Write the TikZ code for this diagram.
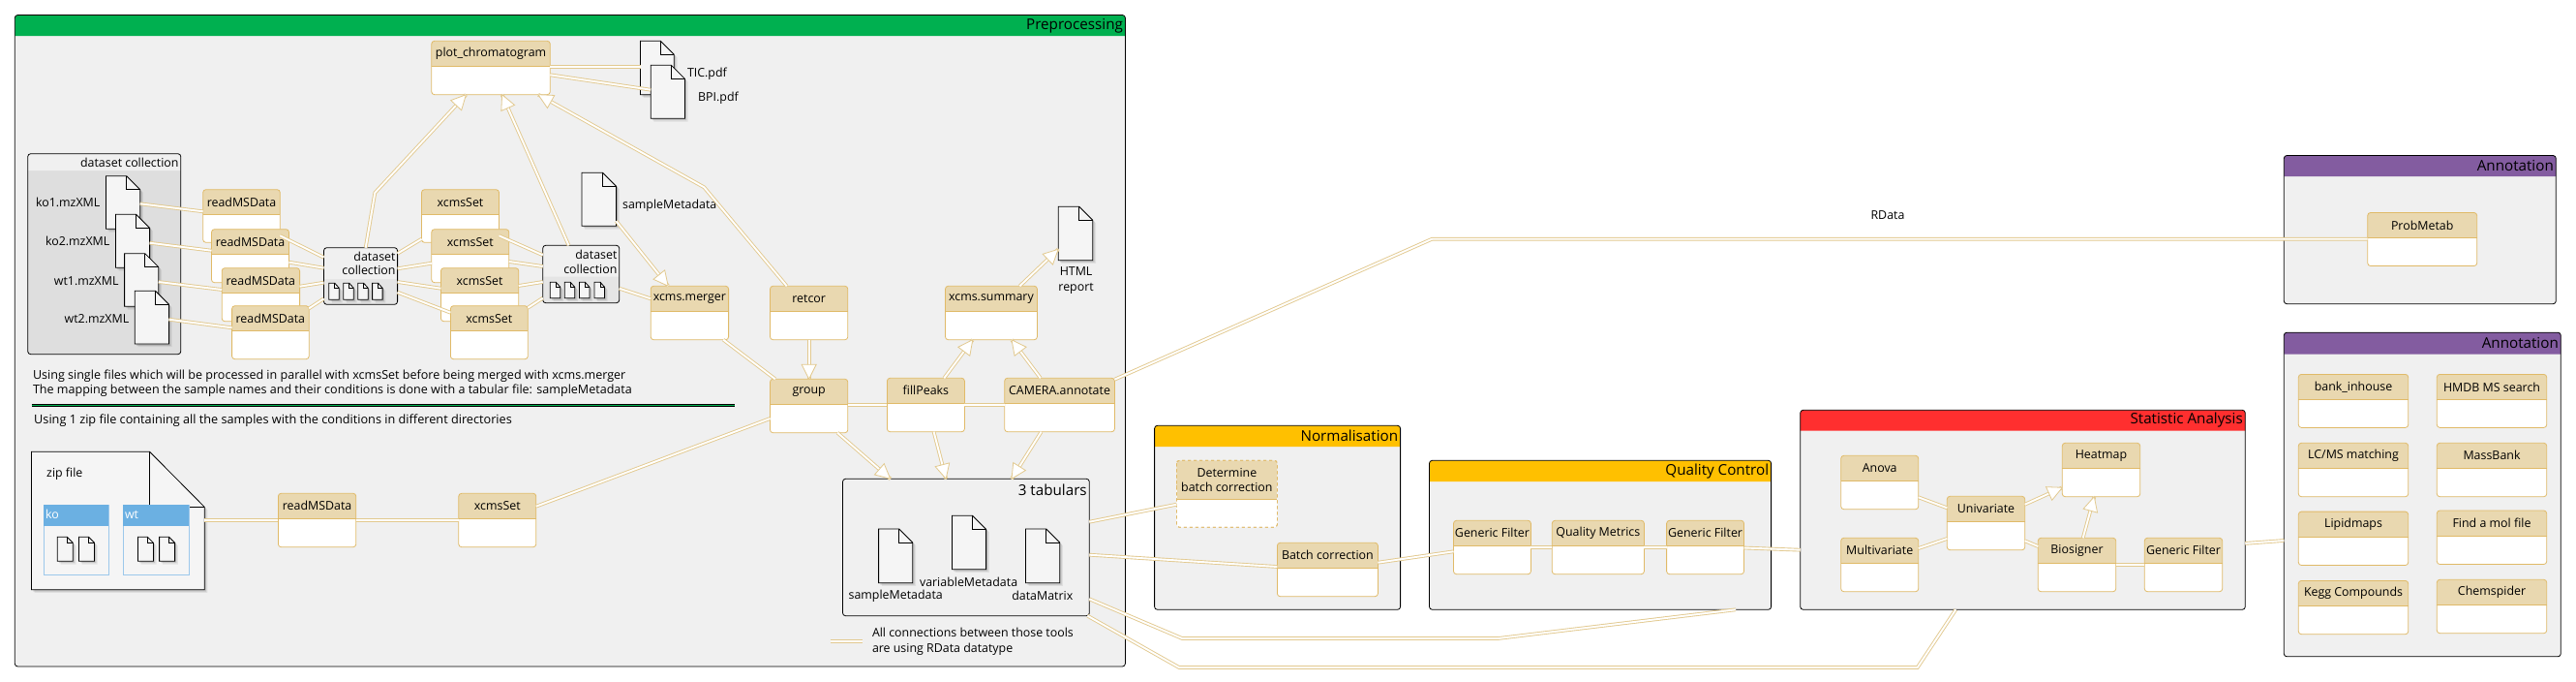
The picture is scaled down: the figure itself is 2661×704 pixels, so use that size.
\documentclass[tikz,border=0pt]{standalone}
\usepackage{fontspec}
\setmainfont{Open Sans}
\usetikzlibrary{decorations.markings}
\definecolor{headtan}{HTML}{E9D8B0}
\definecolor{bordertan}{HTML}{E0BA68}
\definecolor{conntan}{HTML}{E2C98F}
\definecolor{panelbg}{HTML}{F0F0F0}
\definecolor{prepgreen}{HTML}{00B050}
\definecolor{normyellow}{HTML}{FFC000}
\definecolor{statred}{HTML}{FF2F2F}
\definecolor{annpurple}{HTML}{835CA0}
\definecolor{zipblue}{HTML}{6BB0E2}
\definecolor{zipedge}{HTML}{9CC8EB}
\newcommand\fsN{\fontsize{12.4}{15}\selectfont}
\newcommand\fsA{\fontsize{12.55}{15}\selectfont}
\newcommand\fsB{\fontsize{12.7}{15}\selectfont}
\newcommand\fsT{\fontsize{15.2}{18}\selectfont}
\newcommand\headtip{\filldraw[fill=white,draw=conntan,line width=.8pt,line join=miter] (0,0) -- (-15,-7.5) -- (-15,7.5) -- cycle;}
\newcommand\headtipback{\filldraw[fill=white,draw=conntan,line width=.8pt,line join=miter] (0,0) -- (15,-7.5) -- (15,7.5) -- cycle;}
\tikzset{
  x=1pt,y=-1pt,
  every node/.style={inner sep=0pt,outer sep=0pt},
  lbl/.style={font=\fsN,text=black,align=center},
  lblL/.style={lbl,anchor=west,align=left},
  lblR/.style={lbl,anchor=east,align=right},
  ttl/.style={font=\fsT,text=black,anchor=east},
  boxnode/.style={rectangle,rounded corners=3pt},
  blackline/.style={draw=black,line width=.8pt},
  toolline/.style={draw=bordertan,line width=.8pt},
  conn/.style={draw=conntan,line width=3.7pt,line join=miter,postaction={draw=white,line width=1.9pt}},
  arr/.style={conn,postaction={decorate,decoration={markings,mark=at position 1 with {\headtip}}}},
  arrboth/.style={conn,postaction={decorate,decoration={markings,mark=at position 1 with {\headtip},mark=at position 0 with {\headtipback}}}},
}
% tool box with tan header
\newcommand\tool[7][]{%
  \pgfmathsetmacro\cx{(#3+#5)/2}\pgfmathsetmacro\cy{(#4+#6)/2}%
  \pgfmathsetmacro\bw{#5-#3}\pgfmathsetmacro\bh{#6-#4}%
  \pgfmathsetmacro\hy{#4+26}\pgfmathsetmacro\ly{#4+13}%
  \node[boxnode,fill=white,minimum width=\bw pt,minimum height=\bh pt] (#2) at (\cx,\cy) {};%
  \fill[headtan,rounded corners=3pt] (#3,\hy) -- (#3,#4) -- (#5,#4) -- (#5,\hy);%
  \draw[toolline,rounded corners=3pt,#1] (#3,#4) rectangle (#5,#6);%
  \draw[toolline] (#3,\hy) -- (#5,\hy);%
  \node[lbl] (#2-l) at (\cx,\ly) {#7};%
}
% file icon
\newcommand\docf[7]{%
  \pgfmathsetmacro\cx{(#2+#4)/2}\pgfmathsetmacro\cy{(#3+#5)/2}%
  \pgfmathsetmacro\bw{#4-#2}\pgfmathsetmacro\bh{#5-#3}%
  \pgfmathsetmacro\fx{#4-#6}\pgfmathsetmacro\fy{#3+#7}%
  \fill[black,opacity=.07,shift={(3.2,3.2)}] (#2,#3) -- (\fx,#3) -- (#4,\fy) -- (#4,#5) -- (#2,#5) -- cycle;%
  \fill[black,opacity=.13,shift={(1.8,1.8)}] (#2,#3) -- (\fx,#3) -- (#4,\fy) -- (#4,#5) -- (#2,#5) -- cycle;%
  \node[minimum width=\bw pt,minimum height=\bh pt] (#1) at (\cx,\cy) {};%
  \filldraw[fill=white!96!black,blackline,line join=miter] (#2,#3) -- (\fx,#3) -- (#4,\fy) -- (#4,#5) -- (#2,#5) -- cycle;%
  \draw[blackline] (\fx,#3) -- (\fx,\fy) -- (#4,\fy);%
}
% panel with coloured title band
\newcommand\panel[8]{%
  \pgfmathsetmacro\cx{(#2+#4)/2}\pgfmathsetmacro\cy{(#3+#5)/2}%
  \pgfmathsetmacro\bw{#4-#2}\pgfmathsetmacro\bh{#5-#3}%
  \pgfmathsetmacro\ty{(#3+#6)/2}\pgfmathsetmacro\tx{#4-2.5}%
  \node[boxnode,fill=panelbg,minimum width=\bw pt,minimum height=\bh pt] (#1) at (\cx,\cy) {};%
  \fill[#7,rounded corners=3pt] (#2,#6) -- (#2,#3) -- (#4,#3) -- (#4,#6);%
  \draw[blackline,rounded corners=3pt] (#2,#3) rectangle (#4,#5);%
  \node[ttl] (#1-t) at (\tx,\ty) {#8};%
}
% collection box
\newcommand\coll[8]{%
  \pgfmathsetmacro\cx{(#2+#4)/2}\pgfmathsetmacro\cy{(#3+#5)/2}%
  \pgfmathsetmacro\bw{#4-#2}\pgfmathsetmacro\bh{#5-#3}%
  \node[boxnode,fill=#8,minimum width=\bw pt,minimum height=\bh pt] (#1) at (\cx,\cy) {};%
  \fill[#7,rounded corners=3pt] (#2,#6) -- (#2,#3) -- (#4,#3) -- (#4,#6);%
  \draw[blackline,rounded corners=3pt] (#2,#3) rectangle (#4,#5);%
}
\begin{document}
\begin{tikzpicture}
\useasboundingbox (0,0) rectangle (2661,704);
\fill[white] (0,0) rectangle (2661,704);

% ---------- panels
\panel{prep}{15.3}{15.5}{1162.4}{688}{37}{prepgreen}{Preprocessing}
\panel{norm}{1192.6}{439.3}{1446.6}{629.3}{461}{normyellow}{Normalisation}
\panel{qc}{1476.5}{475.3}{1829.6}{629.3}{497}{normyellow}{Quality Control}
\panel{stat}{1859.7}{423.3}{2319.3}{629.3}{444.7}{statred}{Statistic Analysis}
\panel{ann1}{2359.3}{160.5}{2640.3}{313.7}{182}{annpurple}{Annotation}
\panel{ann2}{2359.3}{343.2}{2645.3}{677.8}{365.5}{annpurple}{Annotation}

% ---------- dataset collection (big)
\coll{bigdc}{28.7}{158.7}{186.8}{365.7}{176}{panelbg}{white!87!black}
\node[lblR] (bigdc-l) at (184.5,167.5) {dataset collection};
\docf{ko1}{109.5}{181.7}{144.7}{236.3}{14}{14}
\docf{ko2}{119.4}{221.3}{154.6}{276.3}{14}{14}
\docf{wt1}{128.6}{261.7}{163.8}{316.3}{14}{14}
\docf{wt2}{139.3}{300.3}{174.5}{355}{14}{14}
\node[lblR] (ko1-l) at (103.3,208.7) {ko1.mzXML};
\node[lblR] (ko2-l) at (113.3,248.7) {ko2.mzXML};
\node[lblR] (wt1-l) at (122.5,289.7) {wt1.mzXML};
\node[lblR] (wt2-l) at (133.2,328.7) {wt2.mzXML};

% ---------- tools row
\tool{rm1}{209.7}{195.7}{289.3}{250.3}{readMSData}
\tool{rm2}{218.5}{236.7}{298.5}{291.7}{readMSData}
\tool{rm3}{229.2}{276.7}{309.6}{331.7}{readMSData}
\tool{rm4}{239.6}{315.7}{319.2}{370.7}{readMSData}
\tool{xs1}{435.5}{195.7}{515.5}{250.3}{xcmsSet}
\tool{xs2}{445.8}{236.7}{525.8}{291.7}{xcmsSet}
\tool{xs3}{455.4}{276.7}{535.8}{331.7}{xcmsSet}
\tool{xs4}{465.4}{315.7}{545.3}{370.7}{xcmsSet}

% small collections
\coll{dca}{334.5}{255.7}{410.6}{314.3}{288}{panelbg}{white!90!black}
\node[lblR] (dca-l) at (408.5,264.7) {dataset};
\node[lblR] (dca-m) at (408.5,278.7) {collection};
\docf{dca1}{339.8}{292.3}{350.3}{309.3}{4.5}{5}
\docf{dca2}{354.8}{292.3}{365.3}{309.3}{4.5}{5}
\docf{dca3}{369.7}{292.3}{380.2}{309.3}{4.5}{5}
\docf{dca4}{384.6}{292.3}{395.1}{309.3}{4.5}{5}
\coll{dcb}{560.7}{253.3}{639.7}{312.7}{285.7}{panelbg}{white!90!black}
\node[lblR] (dcb-l) at (637.4,262.7) {dataset};
\node[lblR] (dcb-m) at (637.4,277.7) {collection};
\docf{dcb1}{568.3}{291.3}{578.8}{307.8}{4.5}{5}
\docf{dcb2}{583.2}{291.3}{593.7}{307.8}{4.5}{5}
\docf{dcb3}{598.4}{291.3}{608.9}{307.8}{4.5}{5}
\docf{dcb4}{614}{291.3}{624.5}{307.8}{4.5}{5}

\tool{plot}{445.8}{42.3}{568.3}{97.7}{plot\_chromatogram}
\docf{tic}{661.5}{42.3}{696.3}{97.7}{14}{14}
\docf{bpi}{672.2}{67.3}{707.4}{122.3}{14}{14}
\node[lblL] (tic-l) at (710,76.7) {TIC.pdf};
\node[lblL] (bpi-l) at (721.2,101.7) {BPI.pdf};
\docf{smd}{601}{178.3}{636.6}{233.3}{14}{14}
\node[lblL] (smd-l) at (643.1,212.7) {sampleMetadata};
\tool{merger}{672.2}{295.3}{752.6}{350.7}{xcms.merger}
\tool{retcor}{795.5}{295.3}{875.8}{350.7}{retcor}
\tool{summary}{976.5}{295.3}{1071.4}{350.7}{xcms.summary}
\docf{html}{1093.2}{213.3}{1128.8}{268.7}{14}{14}
\node[lbl] (html-l) at (1111.6,289.3) {HTML\\[0.6pt]report};
\tool{group}{795.5}{391.3}{875.8}{446.7}{group}
\tool{fill}{916.4}{390.3}{996.4}{445.7}{fillPeaks}
\tool{camera}{1037.7}{390.3}{1151.4}{445.7}{CAMERA.annotate}

% ---------- notes
\node[lblL,font=\fsA] (note1) at (34,388.3) {Using single files which will be processed in parallel with xcmsSet before being merged with xcms.merger};
\node[lblL,font=\fsA] (note2) at (34,403.7) {The mapping between the sample names and their conditions is done with a tabular file: sampleMetadata};
\draw[black,line width=2.6pt] (32.5,418.3) -- (758.7,418.3);
\draw[prepgreen,line width=1.2pt] (32.5,418.3) -- (758.7,418.3);
\node[lblL,font=\fsB] (note3) at (35.2,433.7) {Using 1 zip file containing all the samples with the conditions in different directories};

% ---------- zip file
\docf{zip}{32.5}{466.3}{211.2}{608.7}{56.6}{57}
\node[lblL] (zip-l) at (48.2,489.7) {zip file};
\node[fill=white!96!black,draw=zipedge,line width=.8pt,minimum width=66.9pt,minimum height=72.7pt] (kob) at (78.65,557.35) {};
\fill[zipblue] (45.2,521) rectangle (112.1,542.7);
\node[lblL,text=white] (kob-l) at (47,531) {ko};
\node[fill=white!96!black,draw=zipedge,line width=.8pt,minimum width=67.8pt,minimum height=72.7pt] (wtb) at (161.3,557.35) {};
\fill[zipblue] (127.4,521) rectangle (195.2,542.7);
\node[lblL,text=white] (wtb-l) at (129,531) {wt};
\docf{ko-a}{59.3}{554.3}{75.3}{579.3}{6}{6}
\docf{ko-b}{81.5}{554.3}{97.5}{579.3}{6}{6}
\docf{wt-a}{142.4}{554.3}{158.4}{579.3}{6}{6}
\docf{wt-b}{164.6}{554.3}{180.6}{579.3}{6}{6}
\tool{rmz}{287.4}{509.3}{367.8}{564.7}{readMSData}
\tool{xsz}{473.8}{509.3}{553.8}{564.7}{xcmsSet}

% ---------- 3 tabulars
\node[boxnode,draw=black,line width=.8pt,fill=panelbg,minimum width=254.8pt,minimum height=141.4pt] (tab) at (997.9,565) {};
\node[ttl] (tab-l) at (1122.7,505.7) {3 tabulars};
\docf{tsm}{907.6}{546}{942.8}{601.7}{14}{14}
\docf{tvm}{983.4}{532.3}{1018.6}{587.7}{14}{14}
\docf{tdm}{1059.5}{546}{1094.7}{601.7}{14}{14}
\node[lbl] (tsm-l) at (925.2,615) {sampleMetadata};
\node[lbl] (tvm-l) at (1000.6,600.7) {variableMetadata};
\node[lbl] (tdm-l) at (1076.8,615) {dataMatrix};
\coordinate (lega) at (857.5,662);
\coordinate (legb) at (890.8,662);
\draw[conn] (lega) -- (legb);
\node[lblL] (leg-l) at (901,662.2) {All connections between those tools\\[0.6pt]are using RData datatype};

% ---------- downstream tools
\tool[dashed]{det}{1215.4}{475.3}{1319.4}{544.3}{}
\fill[headtan] (1215.8,490) rectangle (1319,515.3);
\draw[toolline,dashed,rounded corners=3pt] (1215.4,475.3) rectangle (1319.4,544.3);
\draw[toolline] (1215.4,515.7) -- (1319.4,515.7);
\node[lbl] (det-l2) at (1267.4,495.7) {Determine\\[0.4pt]batch correction};
\tool{batch}{1319.4}{560.3}{1423.4}{615.7}{Batch correction}
\tool{gf1}{1501.5}{537.3}{1581.4}{592.7}{Generic Filter}
\tool{qm}{1603.3}{537.3}{1698.4}{592.7}{Quality Metrics}
\tool{gf2}{1721.6}{537.3}{1801.5}{592.7}{Generic Filter}
\tool{anova}{1901.7}{470.3}{1981.7}{525.7}{Anova}
\tool{multi}{1901.7}{555.3}{1981.7}{610.7}{Multivariate}
\tool{uni}{2011.3}{512.3}{2091.7}{567.7}{Univariate}
\tool{heat}{2130.3}{457.3}{2210.7}{512.7}{Heatmap}
\tool{bio}{2105.3}{555.3}{2185.7}{610.7}{Biosigner}
\tool{gf3}{2215.3}{555.3}{2295.7}{610.7}{Generic Filter}
\tool{prob}{2445.7}{219.5}{2558.7}{274.5}{ProbMetab}
\tool{bank}{2374.3}{386.4}{2487.7}{441.4}{bank\_inhouse}
\tool{lcms}{2374.3}{457.3}{2487.7}{512.7}{LC/MS matching}
\tool{lipid}{2374.3}{528.1}{2487.7}{583.5}{Lipidmaps}
\tool{kegg}{2374.3}{599.4}{2487.7}{654.7}{Kegg Compounds}
\tool{hmdb}{2517.3}{386.4}{2630.7}{441.4}{HMDB MS search}
\tool{mass}{2517.3}{457.3}{2630.7}{512.7}{MassBank}
\tool{mol}{2517.3}{527}{2630.7}{582.5}{Find a mol file}
\tool{chem}{2517.3}{598.3}{2630.7}{653.7}{Chemspider}
\node[lbl] (rdata) at (1950,222) {RData};

% ---------- connectors
\draw[conn] (ko1.east |- 0,210.3) -- (rm1.west |- 0,218.3);
\draw[conn] (ko2.east |- 0,250.7) -- (rm2.west |- 0,258.7);
\draw[conn] (wt1.east |- 0,291) -- (rm3.west |- 0,299);
\draw[conn] (wt2.east |- 0,329.7) -- (rm4.west |- 0,338.3);
\draw[conn] (rm1.east |- 0,243.3) -- (dca.west |- 0,265.7);
\draw[conn] (rm2.east |- 0,270.7) -- (dca.west |- 0,276.7);
\draw[conn] (rm3.east |- 0,295.7) -- (dca.west |- 0,291.7);
\draw[conn] (rm4.east |- 0,318.3) -- (dca.west |- 0,308.3);
\draw[conn] (dca.east |- 0,261.7) -- (xs1.west |- 0,246.7);
\draw[conn] (dca.east |- 0,277.3) -- (xs2.west |- 0,271.7);
\draw[conn] (dca.east |- 0,291) -- (xs3.west |- 0,297.7);
\draw[conn] (dca.east |- 0,301.7) -- (xs4.west |- 0,322.7);
\draw[conn] (xs1.east |- 0,243.3) -- (dcb.west |- 0,263.3);
\draw[conn] (xs2.east |- 0,270) -- (dcb.west |- 0,275);
\draw[conn] (xs3.east |- 0,295) -- (dcb.west |- 0,291);
\draw[conn] (xs4.east |- 0,317.7) -- (dcb.west |- 0,307.7);
\draw[conn] (dcb.east |- 0,297.7) -- (merger.west |- 0,308.3);
\draw[arr] (smd.east |- 0,228.3) -- (690.2,0 |- merger.north);
\draw[arr] (377.7,0 |- dca.north) -- (387.3,199) -- (481.4,0 |- plot.south);
\draw[arr] (587.5,0 |- dcb.north) -- (518.6,0 |- plot.south);
\draw[arr] (812.7,0 |- retcor.north) -- (727.3,193.3) -- (556,0 |- plot.south);
\draw[conn] (plot.east |- 0,69.3) -- (tic.west |- 0,69.3);
\draw[conn] (plot.east |- 0,77.3) -- (bpi.west |- 0,92.7);
\draw[conn] (747.2,0 |- merger.south) -- (800.8,0 |- group.north);
\draw[arrboth] (retcor.south) -- (group.north);
\draw[arr] (975.3,0 |- fill.north) -- (1004.8,0 |- summary.south);
\draw[arr] (1074.8,0 |- camera.north) -- (1045,0 |- summary.south);
\draw[arr] (1053.4,0 |- summary.north) -- (html.west |- 0,257.3);
\draw[conn] (group.east |- 0,417.7) -- (fill.west |- 0,417.7);
\draw[conn] (fill.east |- 0,417.7) -- (camera.west |- 0,417.7);
\draw[arr] (865.1,0 |- group.south) -- (919.8,0 |- tab.north);
\draw[arr] (964.6,0 |- fill.south) -- (977.2,0 |- tab.north);
\draw[arr] (1075.6,0 |- camera.south) -- (1045,0 |- tab.north);
\draw[conn] (xsz.east |- 0,522.7) -- (group.west |- 0,432);
\draw[conn] (zip.east |- 0,537) -- (rmz.west |- 0,537);
\draw[conn] (rmz.east |- 0,537) -- (xsz.west |- 0,537);
\draw[conn] (camera.east |- 0,391.7) -- (1479.3,246.7) -- (prob.west |- 0,246.7);
\draw[conn] (tab.east |- 0,538.7) -- (det.west |- 0,520.7);
\draw[conn] (tab.east |- 0,572.7) -- (batch.west |- 0,585);
\draw[conn] (batch.east |- 0,580.7) -- (gf1.west |- 0,569.3);
\draw[conn] (gf1.east |- 0,565) -- (qm.west |- 0,565);
\draw[conn] (qm.east |- 0,565) -- (gf2.west |- 0,565);
\draw[conn] (gf2.east |- 0,565.5) -- (stat.west |- 0,567.7);
\draw[conn] (tab.east |- 0,618.3) -- (1221.2,659) -- (1547.5,659) -- (1793,0 |- qc.south);
\draw[conn] (1123.4,0 |- tab.south) -- (1218,689) -- (1980.7,689) -- (2020.3,0 |- stat.south);
\draw[conn] (multi.east |- 0,566) -- (uni.west |- 0,556);
\draw[conn] (anova.east |- 0,513.3) -- (uni.west |- 0,524.3);
\draw[arr] (uni.east |- 0,520.7) -- (heat.west |- 0,503.3);
\draw[conn] (uni.east |- 0,558.3) -- (bio.west |- 0,564);
\draw[arr] (2151.7,0 |- bio.north) -- (2163.3,0 |- heat.south);
\draw[conn] (bio.east |- 0,582.7) -- (gf3.west |- 0,582.7);
\draw[conn] (stat.east |- 0,560.9) -- (ann2.west |- 0,558);
\end{tikzpicture}
\end{document}
